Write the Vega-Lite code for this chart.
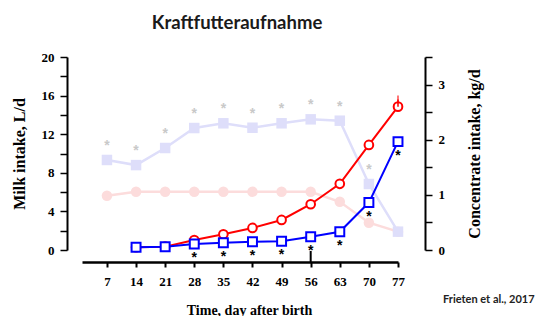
{
  "$schema": "https://vega.github.io/schema/vega-lite/v6.json",
  "width": 316,
  "height": 193,
  "autosize": {"type": "none"},
  "padding": {"left": 82, "top": 57, "right": 137, "bottom": 66},
  "background": "white",
  "title": {"text": "Kraftfutteraufnahme", "font": "Lato", "fontWeight": "bold", "fontSize": 18.5, "color": "#1a1a1a", "frame": "group", "anchor": "middle", "offset": 19, "dx": -3},
  "datasets": {
    "d": [
      {"day": 7, "series": "milk_adlib", "value": 9.33, "sig": true},
      {"day": 14, "series": "milk_adlib", "value": 8.8, "sig": true},
      {"day": 21, "series": "milk_adlib", "value": 10.57, "sig": true},
      {"day": 28, "series": "milk_adlib", "value": 12.64, "sig": true},
      {"day": 35, "series": "milk_adlib", "value": 13.13, "sig": true},
      {"day": 42, "series": "milk_adlib", "value": 12.67, "sig": true},
      {"day": 49, "series": "milk_adlib", "value": 13.13, "sig": true},
      {"day": 56, "series": "milk_adlib", "value": 13.54, "sig": true},
      {"day": 63, "series": "milk_adlib", "value": 13.4, "sig": true},
      {"day": 70, "series": "milk_adlib", "value": 6.84, "sig": true},
      {"day": 77, "series": "milk_adlib", "value": 1.9, "sig": false},
      {"day": 7, "series": "milk_restr", "value": 5.63, "sig": false},
      {"day": 14, "series": "milk_restr", "value": 6.04, "sig": false},
      {"day": 21, "series": "milk_restr", "value": 6.04, "sig": false},
      {"day": 28, "series": "milk_restr", "value": 6.04, "sig": false},
      {"day": 35, "series": "milk_restr", "value": 6.04, "sig": false},
      {"day": 42, "series": "milk_restr", "value": 6.04, "sig": false},
      {"day": 49, "series": "milk_restr", "value": 6.04, "sig": false},
      {"day": 56, "series": "milk_restr", "value": 6.04, "sig": false},
      {"day": 63, "series": "milk_restr", "value": 5.0, "sig": false},
      {"day": 70, "series": "milk_restr", "value": 2.83, "sig": false},
      {"day": 77, "series": "milk_restr", "value": 1.9, "sig": false},
      {"day": 56, "series": "marker", "value": -1.25, "value2": -0.1, "sig": false},
      {"day": 14, "series": "conc_restr", "value": 0.05, "sig": false},
      {"day": 21, "series": "conc_restr", "value": 0.06, "sig": false},
      {"day": 28, "series": "conc_restr", "value": 0.18, "sig": false},
      {"day": 35, "series": "conc_restr", "value": 0.285, "sig": false},
      {"day": 42, "series": "conc_restr", "value": 0.4, "sig": false},
      {"day": 49, "series": "conc_restr", "value": 0.545, "sig": false},
      {"day": 56, "series": "conc_restr", "value": 0.83, "sig": false},
      {"day": 63, "series": "conc_restr", "value": 1.2, "sig": false},
      {"day": 70, "series": "conc_restr", "value": 1.905, "sig": false},
      {"day": 77, "series": "conc_restr", "value": 2.6, "sig": false},
      {"day": 77, "series": "conc_restr_err", "value": 2.6, "value2": 2.73, "sig": false},
      {"day": 77, "series": "conc_restr_cap", "value": 2.73, "sig": false},
      {"day": 14, "series": "conc_adlib", "value": 0.05, "sig": false},
      {"day": 21, "series": "conc_adlib", "value": 0.06, "sig": false},
      {"day": 28, "series": "conc_adlib", "value": 0.11, "sig": true},
      {"day": 35, "series": "conc_adlib", "value": 0.13, "sig": true},
      {"day": 42, "series": "conc_adlib", "value": 0.15, "sig": true},
      {"day": 49, "series": "conc_adlib", "value": 0.16, "sig": true},
      {"day": 56, "series": "conc_adlib", "value": 0.24, "sig": true},
      {"day": 63, "series": "conc_adlib", "value": 0.33, "sig": true},
      {"day": 70, "series": "conc_adlib", "value": 0.86, "sig": true},
      {"day": 77, "series": "conc_adlib", "value": 1.965, "sig": true},
      {"day": 77, "series": "cite", "value": -0.9, "label": "Frieten et al., 2017", "sig": false}
    ]
  },
  "data": {"name": "d"},
  "encoding": {
    "x": {
      "field": "day",
      "type": "quantitative",
      "scale": {"domain": [1, 77], "nice": false, "zero": false},
      "axis": {
        "values": [7, 14, 21, 28, 35, 42, 49, 56, 63, 70, 77],
        "offset": 12,
        "domainWidth": 2.5,
        "tickWidth": 2,
        "tickSize": 5,
        "labelPadding": 8,
        "labelFlush": false,
        "title": "Time, day after birth",
        "titleFontSize": 14,
        "titlePadding": 15,
        "titleX": 167
      }
    }
  },
  "layer": [
    {
      "encoding": {
        "y": {
          "field": "value",
          "type": "quantitative",
          "scale": {"domain": [0, 20], "nice": false},
          "axis": {
            "orient": "left",
            "offset": 15,
            "values": [0, 2, 4, 6, 8, 10, 12, 14, 16, 18, 20],
            "labelExpr": "datum.value % 4 == 0 ? datum.label : ''",
            "labelOverlap": false,
            "tickSize": 7,
            "tickWidth": 1.5,
            "domainWidth": 2,
            "labelPadding": 6,
            "title": "Milk intake, L/d",
            "titleFontSize": 16,
            "titlePadding": 14
          }
        }
      },
      "layer": [
        {
          "transform": [{"filter": "datum.series == 'milk_restr'"}],
          "mark": {"type": "line", "color": "#fcdcdc", "strokeWidth": 2.5, "point": {"filled": true, "shape": "circle", "size": 110, "color": "#fcdcdc"}}
        },
        {
          "transform": [{"filter": "datum.series == 'milk_adlib'"}],
          "mark": {"type": "line", "color": "#dedefa", "strokeWidth": 2.5, "point": {"filled": true, "shape": "square", "size": 110, "color": "#dedefa"}}
        },
        {
          "transform": [{"filter": "datum.series == 'milk_adlib' && datum.sig"}],
          "mark": {"type": "text", "text": "*", "dy": -14, "color": "#c9c9c9", "font": "Liberation Sans", "fontWeight": "bold", "fontSize": 14, "baseline": "middle"}
        },
        {
          "transform": [{"filter": "datum.series == 'marker'"}],
          "mark": {"type": "rule", "color": "black", "strokeWidth": 2},
          "encoding": {"y2": {"field": "value2"}}
        }
      ]
    },
    {
      "encoding": {
        "y": {
          "field": "value",
          "type": "quantitative",
          "scale": {"domain": [0, 3.5], "nice": false},
          "axis": {
            "orient": "right",
            "offset": 27,
            "values": [0, 0.5, 1, 1.5, 2, 2.5, 3, 3.5],
            "labelExpr": "datum.value % 1 == 0 ? format(datum.value, 'd') : ''",
            "labelOverlap": false,
            "tickSize": 7,
            "tickWidth": 1.5,
            "domainWidth": 2,
            "labelPadding": 6,
            "title": "Concentrate intake, kg/d",
            "titleFontSize": 16,
            "titleAngle": 270,
            "titleBaseline": "top",
            "titlePadding": 22
          }
        }
      },
      "layer": [
        {
          "transform": [{"filter": "datum.series == 'conc_restr'"}],
          "mark": {"type": "line", "color": "#ff0000", "strokeWidth": 2, "point": {"filled": false, "fill": "white", "shape": "circle", "size": 75, "strokeWidth": 2, "color": "#ff0000"}}
        },
        {
          "transform": [{"filter": "datum.series == 'conc_restr_err'"}],
          "mark": {"type": "rule", "color": "#ff0000", "strokeWidth": 1.5},
          "encoding": {"y2": {"field": "value2"}}
        },
        {
          "transform": [{"filter": "datum.series == 'conc_restr_cap'"}],
          "mark": {"type": "tick", "color": "#ff0000", "size": 8, "thickness": 1.5}
        },
        {
          "transform": [{"filter": "datum.series == 'conc_adlib'"}],
          "mark": {"type": "line", "color": "#0000ff", "strokeWidth": 2, "point": {"filled": false, "fill": "white", "shape": "square", "size": 80, "strokeWidth": 2, "color": "#0000ff"}}
        },
        {
          "transform": [{"filter": "datum.series == 'conc_adlib' && datum.sig"}],
          "mark": {"type": "text", "text": "*", "dy": 14, "color": "black", "font": "Liberation Sans", "fontWeight": "bold", "fontSize": 14, "baseline": "middle"}
        },
        {
          "transform": [{"filter": "datum.series == 'cite'"}],
          "mark": {"type": "text", "align": "left", "baseline": "middle", "dx": 45, "font": "Lato", "fontWeight": "bold", "fontSize": 11, "color": "#222222"},
          "encoding": {"text": {"field": "label"}}
        }
      ]
    }
  ],
  "resolve": {"scale": {"y": "independent"}},
  "config": {
    "view": {"stroke": null},
    "axis": {
      "grid": false,
      "domainColor": "black",
      "tickColor": "black",
      "labelFont": "Liberation Serif",
      "labelFontWeight": "bold",
      "labelFontSize": 13,
      "labelColor": "black",
      "titleFont": "Liberation Serif",
      "titleFontWeight": "bold",
      "titleColor": "black"
    }
  }
}
